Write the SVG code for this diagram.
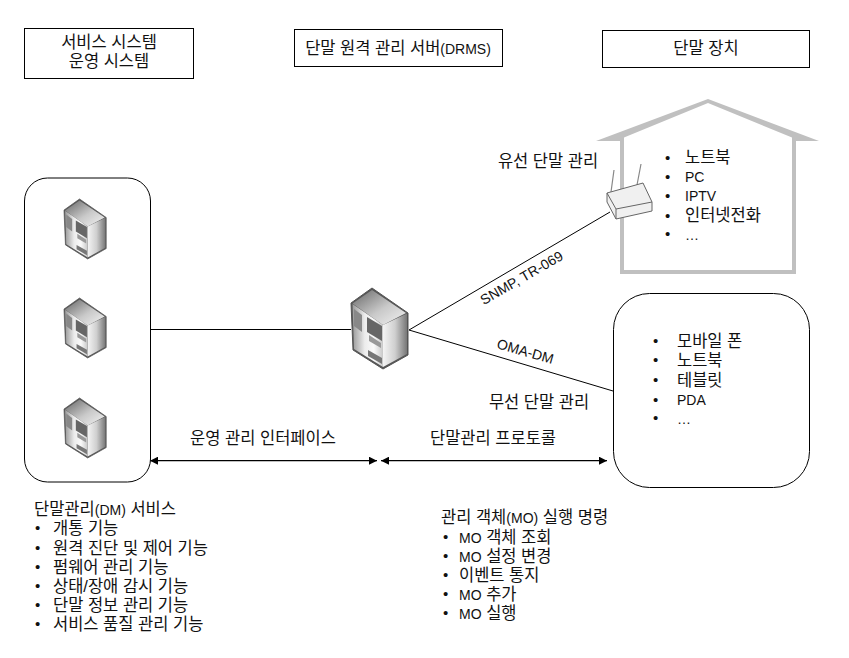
<svg xmlns="http://www.w3.org/2000/svg" xmlns:xlink="http://www.w3.org/1999/xlink" width="849" height="658" viewBox="0 0 849 658">
<style>
text{font-family:"Liberation Sans","Noto Sans CJK KR",sans-serif;font-size:16.500px;fill:#111}
.m{text-anchor:middle}
.s,tspan{font-size:14px}
.b{font-size:15px}
.box{fill:#fff;stroke:#000;stroke-width:1}
.ln{fill:none;stroke:#000;stroke-width:1}
.ar{fill:none;stroke:#000;stroke-width:1.300;marker-start:url(#a);marker-end:url(#a)}
</style>
<defs>
<marker id="a" viewBox="0 0 8 8" refX="8" refY="4" markerWidth="8" markerHeight="8" markerUnits="userSpaceOnUse" orient="auto-start-reverse"><path d="M0 0L8 4L0 8Z" fill="#000"/></marker>
<linearGradient id="gt" x1="0" y1="0" x2="1" y2="1"><stop offset="0" stop-color="#666"/><stop offset=".55" stop-color="#c9c9c9"/><stop offset="1" stop-color="#f2f2f2"/></linearGradient>
<linearGradient id="gr" x1="0" y1="0" x2="1" y2="0"><stop offset="0" stop-color="#f4f4f4"/><stop offset=".5" stop-color="#cfcfcf"/><stop offset="1" stop-color="#777"/></linearGradient>
<linearGradient id="gl" x1="0" y1="0" x2="1" y2="0"><stop offset="0" stop-color="#9a9a9a"/><stop offset=".4" stop-color="#ececec"/><stop offset=".7" stop-color="#fafafa"/><stop offset="1" stop-color="#c8c8c8"/></linearGradient>
<g id="srv">
<path d="M0 15L21 0L57 25L57 67L32 81L2 62Z" fill="#555" stroke="#555" stroke-width="1" stroke-linejoin="round"/>
<path d="M1.500 15.500L21 2L55 25L32 37Z" fill="url(#gt)"/>
<path d="M32 37L56 25.500L56 66L32 79Z" fill="url(#gr)"/>
<path d="M1.500 16L32 37L32 79L3 61Z" fill="url(#gl)"/>
<path d="M3 21L11 27L11 44L3 38Z" fill="#888"/>
<path d="M16 29L31 38L31 53L16 44Z" fill="#666"/>
<path d="M18 47L30 55L30 60L18 53Z" fill="#999"/>
<path d="M17 62L31 70L31 76L17 68Z" fill="#777"/>
</g>
</defs>
<g id="connectors">
<path class="ln" d="M150 329.500H351"/>
<path class="ln" d="M409 330L610 212"/>
<path class="ln" d="M409 330L613 391"/>
<path class="ar" d="M150 460.700H377"/>
<path class="ar" d="M381 460.700H607"/>
</g>
<g id="node-service"><rect class="box" x="24.500" y="28.500" width="169" height="50"/><text class="m" x="109" y="48">서비스 시스템</text><text class="m" x="109" y="67">운영 시스템</text></g>
<g id="node-drms"><rect class="box" x="294.500" y="29.500" width="208" height="37"/><text class="m" x="398" y="54">단말 원격 관리 서버<tspan>(DRMS)</tspan></text></g>
<g id="node-device"><rect class="box" x="602.500" y="30.500" width="207" height="37"/><text class="m" x="706" y="54">단말 장치</text></g>
<g id="node-left"><rect class="box" x="24.500" y="178" width="126" height="304" rx="23"/>
<use xlink:href="#srv" transform="translate(64 199) scale(.74)"/>
<use xlink:href="#srv" transform="translate(64 298) scale(.74)"/>
<use xlink:href="#srv" transform="translate(64 398) scale(.74)"/></g>
<g id="node-drms-server"><use xlink:href="#srv" transform="translate(351 288)"/></g>
<g id="node-house"><path fill="#c0c0c0" fill-rule="evenodd" d="M596 141L708 99L819 141H796V274H620V141ZM624 137.500V270H792V137.500L708 103Z"/>
<text x="665" y="163" class="b">•</text><text x="685" y="163">노트북</text>
<text x="665" y="182" class="b">•</text><text x="685" y="182" class="s">PC</text>
<text x="665" y="201" class="b">•</text><text x="685" y="201" class="s">IPTV</text>
<text x="665" y="221" class="b">•</text><text x="685" y="221">인터넷전화</text>
<text x="665" y="239" class="b">•</text><text x="685" y="240" class="s">…</text></g>
<g id="node-router"><path d="M611 192L614 170M637 185L641 164" stroke="#888" stroke-width="1.200" fill="none"/>
<path d="M607 193L643 183L652 202V211L616 219L607 202Z" fill="#f0f0f0" stroke="#666"/><path d="M607 193L616 209L652 202M616 209V219" fill="none" stroke="#666"/></g>
<g id="node-wireless"><rect class="box" x="613.500" y="293.500" width="196" height="194" rx="36"/>
<text x="653" y="346" class="b">•</text><text x="677" y="347">모바일 폰</text>
<text x="653" y="365" class="b">•</text><text x="677" y="366">노트북</text>
<text x="653" y="385" class="b">•</text><text x="677" y="386">테블릿</text>
<text x="653" y="405" class="b">•</text><text x="677" y="405" class="s">PDA</text>
<text x="653" y="423" class="b">•</text><text x="677" y="424" class="s">…</text></g>
<g id="labels">
<text class="m" x="548" y="167">유선 단말 관리</text>
<text class="m s" transform="translate(524 282) rotate(-30)">SNMP, TR-069</text>
<text class="m s" transform="translate(524 356) rotate(16)">OMA-DM</text>
<text class="m" x="539" y="408">무선 단말 관리</text>
<text class="m" x="263" y="444">운영 관리 인터페이스</text>
<text class="m" x="493" y="444">단말관리 프로토콜</text>
</g>
<g id="list-dm">
<text x="34" y="515">단말관리<tspan>(DM)</tspan> 서비스</text>
<text x="35" y="533" class="b">•</text><text x="53" y="534">개통 기능</text>
<text x="35" y="553" class="b">•</text><text x="53" y="554">원격 진단 및 제어 기능</text>
<text x="35" y="572" class="b">•</text><text x="53" y="573">펌웨어 관리 기능</text>
<text x="35" y="591" class="b">•</text><text x="53" y="592">상태/장애 감시 기능</text>
<text x="35" y="610" class="b">•</text><text x="53" y="611">단말 정보 관리 기능</text>
<text x="35" y="629" class="b">•</text><text x="53" y="630">서비스 품질 관리 기능</text>
</g>
<g id="list-mo">
<text x="441" y="523">관리 객체<tspan>(MO)</tspan> 실행 명령</text>
<text x="443" y="542" class="b">•</text><text x="459" y="543"><tspan>MO</tspan> 객체 조회</text>
<text x="443" y="561" class="b">•</text><text x="459" y="562"><tspan>MO</tspan> 설정 변경</text>
<text x="443" y="580" class="b">•</text><text x="459" y="581">이벤트 통지</text>
<text x="443" y="599" class="b">•</text><text x="459" y="600"><tspan>MO</tspan> 추가</text>
<text x="443" y="618" class="b">•</text><text x="459" y="619"><tspan>MO</tspan> 실행</text>
</g>
</svg>
